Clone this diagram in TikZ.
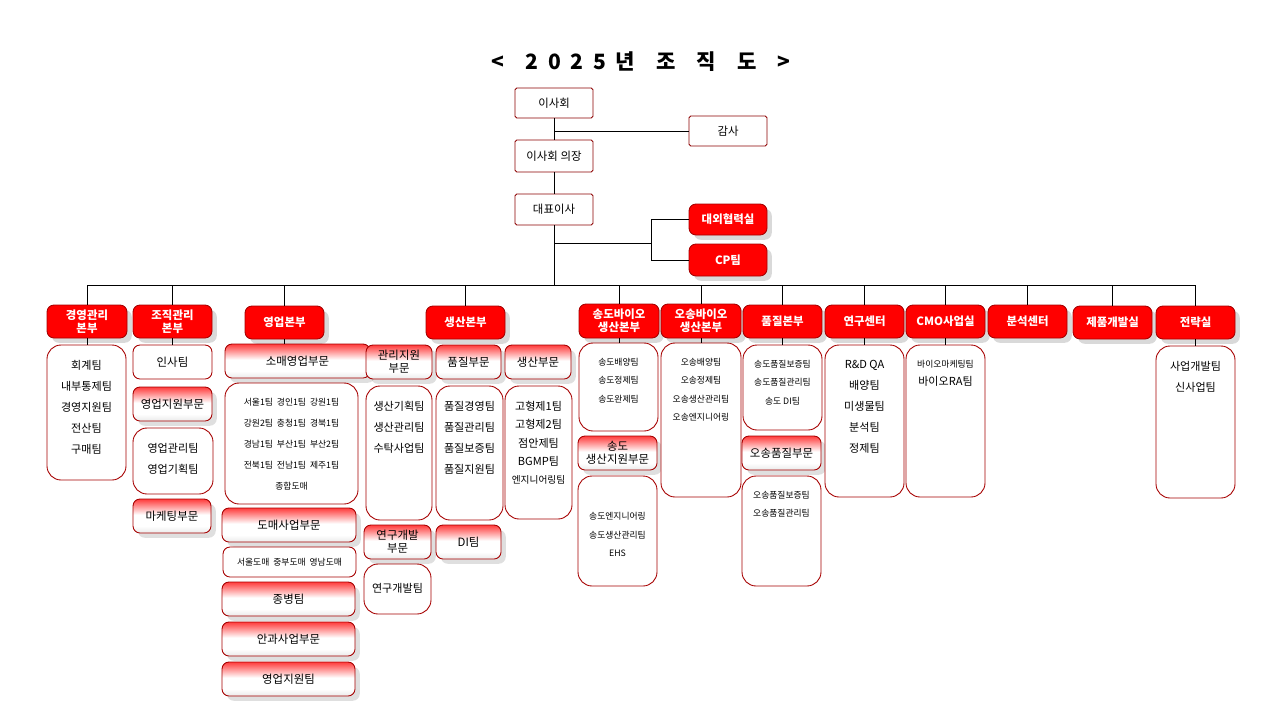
\documentclass[tikz,border=0pt]{standalone}
\usepackage{fontspec}
\setmainfont{Noto Sans CJK KR}
\pgfdeclareverticalshading{redfade}{100bp}{color(0bp)=(white); color(82bp)=(white); color(96bp)=(red); color(100bp)=(red)}
\pgfdeclareverticalshading{redhead}{100bp}{color(0bp)=(black!30); color(35bp)=(white); color(52bp)=(white); color(82bp)=(red); color(100bp)=(red)}
\pgfdeclareverticalshading{redtop}{100bp}{color(0bp)=(red!75!black); color(22bp)=(red); color(100bp)=(red)}
\tikzset{
  base/.style={draw=red!65!black, line width=0.5pt, rounded corners=4pt, inner sep=1pt, align=center},
  board/.style={draw=red!55!black, line width=0.5pt, rounded corners=1pt, fill=white, font=\fontsize{6.5}{8}\selectfont},
  topbox/.style={base, shading=redtop, text=white, font=\bfseries\fontsize{6.5}{7.5}\selectfont, drop shadow={opacity=0.3}},
  headbox/.style={base, shading=redhead, font=\fontsize{6.5}{7.5}\selectfont, drop shadow={opacity=0.25}},
  plainbox/.style={base, fill=white, font=\fontsize{6.5}{7.5}\selectfont},
  listbox/.style={base, rounded corners=8pt, shading=redfade},
  listtext/.style={align=center, inner sep=0pt, anchor=north, font=\fontsize{6.3}{12}\selectfont},
  smalltext/.style={listtext, font=\fontsize{5}{10.5}\selectfont},
  conn/.style={black, line width=0.5pt}
}
\usetikzlibrary{shadows}
% box from pixel corners
\newcommand\bx[7][headbox]{\node[#1, minimum width={(#5-#3)*0.02cm}, minimum height={(#6-#4)*0.02cm}] (#2) at ({(#3+#5)/2},{(#4+#6)/2}) {#7};}
% list box with text at its top
\newcommand\lst[7][listtext]{\bx[listbox]{#2}{#3}{#4}{#5}{#6}{}
  \node[#1] at ([yshift=-0.3cm]#2.north) {#7};}
\begin{document}
\begin{tikzpicture}[x=0.02cm, y=-0.02cm]
\useasboundingbox (0,0) rectangle (1280,720);
\node[font=\bfseries\fontsize{12}{14}\selectfont] (title) at (641,62) {<\quad 2\ \ 0\ \ 2\ \ 5\ \ 년\quad 조\quad 직\quad 도\quad >};
% top of the chart
\bx[board]{board}{515}{88}{593}{118}{이사회}
\bx[board]{audit}{689}{116}{767}{146}{감사}
\bx[board]{chair}{515}{140}{593}{172}{이사회 의장}
\bx[board]{ceo}{515}{194}{593}{225}{대표이사}
\bx[topbox]{ext}{689}{204}{767}{235}{대외협력실}
\bx[topbox]{cp}{689}{244}{767}{276}{CP팀}
\coordinate (aud) at (554,131);
\coordinate (brk) at (651,243);
\coordinate (bus) at (554,285);
\draw[conn] (board.south) -- (chair.north);
\draw[conn] (aud) -- (audit.west);
\draw[conn] (chair.south) -- (ceo.north);
\draw[conn] (ceo.south) -- (bus);
\draw[conn] (ceo.south |- brk) -- (brk);
\draw[conn] (ext.west) -| (brk) |- (cp.west);
% divisions
\bx[topbox]{mgmt}{47}{305}{127}{338}{경영관리\\본부}
\bx[topbox]{org}{133}{305}{212}{338}{조직관리\\본부}
\bx[topbox]{sales}{245}{306}{324}{339}{영업본부}
\bx[topbox]{prod}{426}{306}{505}{339}{생산본부}
\bx[topbox]{songdo}{579}{304}{659}{338}{송도바이오\\생산본부}
\bx[topbox]{osong}{661}{304}{741}{338}{오송바이오\\생산본부}
\bx[topbox]{qual}{743}{305}{822}{338}{품질본부}
\bx[topbox]{rnd}{825}{305}{904}{338}{연구센터}
\bx[topbox]{cmo}{906}{305}{985}{338}{CMO사업실}
\bx[topbox]{anal}{988}{305}{1067}{338}{분석센터}
\bx[topbox]{dev}{1073}{306}{1152}{339}{제품개발실}
\bx[topbox]{strat}{1156}{306}{1235}{339}{전략실}
\draw[conn] (mgmt.north |- bus) -- (strat.north |- bus);
\foreach \d in {mgmt,org,sales,prod,songdo,osong,qual,rnd,cmo,anal,dev,strat}
  \draw[conn] (\d.north) -- (\d.north |- bus);
% 경영관리
\lst{mgmtL}{47}{345}{126}{480}{회계팀\\내부통제팀\\경영지원팀\\전산팀\\구매팀}
% 조직관리
\bx[plainbox]{hr}{133}{345}{212}{379}{인사팀}
\bx{salsup}{133}{387}{212}{421}{영업지원부문}
\lst{salsupL}{133}{428}{213}{494}{영업관리팀\\영업기획팀}
\bx{mkt}{133}{499}{211}{533}{마케팅부문}
% 영업
\bx{retail}{225}{344}{370}{378}{소매영업부문}
\lst[smalltext]{retailL}{225}{383}{358}{504}{서울1팀\ \ 경인1팀\ \ 강원1팀\\[1.5pt]강원2팀\ \ 충청1팀\ \ 경북1팀\\[1.5pt]경남1팀\ \ 부산1팀\ \ 부산2팀\\[1.5pt]전북1팀\ \ 전남1팀\ \ 제주1팀\\[1.5pt]종합도매}
\bx{whole}{222}{508}{356}{542}{도매사업부문}
\bx[plainbox, font=\fontsize{5}{6}\selectfont]{wholeL}{223}{547}{356}{577}{서울도매\ \ 중부도매\ \ 영남도매}
\bx{hosp}{222}{582}{355}{616}{종병팀}
\bx{eye}{222}{622}{355}{656}{안과사업부문}
\bx{salesup}{222}{662}{355}{696}{영업지원팀}
% 생산
\bx{adm}{366}{345}{432}{379}{관리지원\\부문}
\bx{pq}{436}{345}{501}{379}{품질부문}
\bx{pp}{505}{345}{571}{379}{생산부문}
\lst{admL}{366}{386}{432}{520}{생산기획팀\\생산관리팀\\수탁사업팀}
\lst{pqL}{436}{386}{503}{520}{품질경영팀\\품질관리팀\\품질보증팀\\품질지원팀}
\lst[listtext, font=\fontsize{6.3}{10.5}\selectfont]{ppL}{505}{386}{572}{519}{고형제1팀\\고형제2팀\\점안제팀\\BGMP팀\\{\fontsize{5.5}{6}\selectfont 엔지니어링팀}}
\bx{lab}{364}{525}{431}{559}{연구개발\\부문}
\bx{di}{436}{525}{501}{559}{DI팀}
\lst{labL}{364}{564}{431}{614}{\\[-4pt]연구개발팀}
% 송도
\lst[smalltext]{songdoL}{579}{343}{658}{431}{송도배양팀\\송도정제팀\\송도완제팀}
\bx{sdsup}{578}{436}{657}{470}{송도\\생산지원부문}
\lst[smalltext]{sdsupL}{578}{476}{657}{586}{\\[6pt]송도엔지니어링\\송도생산관리팀\\EHS}
% 오송
\lst[smalltext]{osongL}{661}{343}{741}{497}{오송배양팀\\오송정제팀\\오송생산관리팀\\오송엔지니어링}
% 품질
\lst[smalltext]{qualL}{743}{345}{822}{430}{송도품질보증팀\\송도품질관리팀\\송도 DI팀}
\bx{osq}{742}{436}{821}{470}{오송품질부문}
\lst[smalltext]{osqL}{742}{476}{821}{586}{오송품질보증팀\\오송품질관리팀}
% 연구센터, CMO, 전략실
\lst{rndL}{825}{345}{904}{497}{R\&D QA\\배양팀\\미생물팀\\분석팀\\정제팀}
\lst[smalltext]{cmoL}{906}{345}{985}{497}{바이오마케팅팀\\{\fontsize{6.3}{7}\selectfont 바이오RA팀}}
\lst{stratL}{1156}{346}{1235}{498}{사업개발팀\\신사업팀}
% ties from division to first box
\foreach \a/\b in {mgmt/mgmtL,org/hr,sales/retail,songdo/songdoL,osong/osongL,qual/qualL,rnd/rndL,cmo/cmoL,strat/stratL}
  \draw[conn] (\a.south) -- (\a.south |- \b.north);
\end{tikzpicture}
\end{document}
